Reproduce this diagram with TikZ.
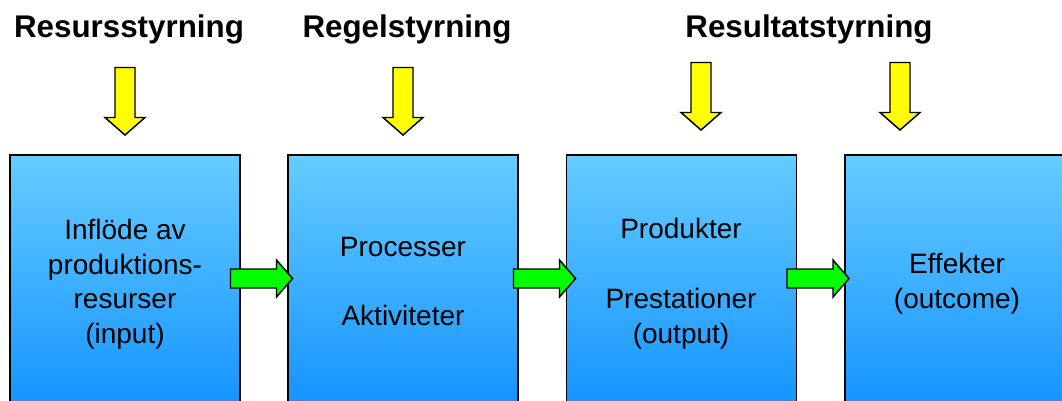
\documentclass[tikz,border=0pt]{standalone}
\usepackage{fontspec}
\setmainfont{Liberation Sans}
\definecolor{boxtop}{HTML}{66CCFF}
\definecolor{boxbot}{HTML}{1090FF}
\definecolor{arrowyellow}{HTML}{FFFF00}
\definecolor{arrowgreen}{HTML}{00FF00}
\tikzset{
  stage/.style={draw=black, line width=1.2pt, top color=boxtop, bottom color=boxbot,
    minimum width=172.5pt, minimum height=198.75pt, inner sep=0pt},
  heading/.style={font=\fontsize{23.5}{27}\selectfont\bfseries, anchor=base, inner sep=0pt},
  boxtext/.style={font=\fontsize{21}{25}\selectfont, anchor=base, inner sep=0pt},
  arrowline/.style={draw=black, line width=1.1pt, line join=miter},
  yarrow/.pic={\path[arrowline, fill=arrowyellow]
      (-10,0) -- (10,0) -- (10,50) -- (20,50) -- (0,67.5) -- (-20,50) -- (-10,50) -- cycle;},
  garrow/.pic={\path[arrowline, fill=arrowgreen]
      (0,-9.5) -- (46,-9.5) -- (46,-18.5) -- (62,0) -- (46,18.5) -- (46,9.5) -- (0,9.5) -- cycle;}
}
\begin{document}
\begin{tikzpicture}[x=0.75pt, y=-0.75pt]
\useasboundingbox (0,0) rectangle (1062,400);

% headings
\node[heading] (h1) at (129,37) {Resursstyrning};
\node[heading] (h2) at (407,37) {Regelstyrning};
\node[heading] (h3) at (809,37) {Resultatstyrning};

% downward arrows under the headings
\pic at (125,67.5) {yarrow};
\pic at (403,67.5) {yarrow};
\pic at (701,62.5) {yarrow};
\pic at (900,62.5) {yarrow};

% the four stages
\node[stage] (b1) at (125,287.5) {};
\node[stage] (b2) at (403,287.5) {};
\node[stage] (b3) at (681.5,287.5) {};
\node[stage] (b4) at (960,287.5) {};

% stage texts
\node[boxtext] (t1a) at (125,239) {Inflöde av};
\node[boxtext] (t1b) at (125,274) {produktions-};
\node[boxtext] (t1c) at (125,308.5) {resurser};
\node[boxtext] (t1d) at (125,343) {(input)};

\node[boxtext] (t2a) at (403,256) {Processer};
\node[boxtext] (t2b) at (403,325) {Aktiviteter};

\node[boxtext] (t3a) at (681,238.5) {Produkter};
\node[boxtext] (t3b) at (681,308.5) {Prestationer};
\node[boxtext] (t3c) at (681,343) {(output)};

\node[boxtext] (t4a) at (957,273.5) {Effekter};
\node[boxtext] (t4b) at (957,308.5) {(outcome)};

% flow arrows between the stages
\pic at (230.5,278.5) {garrow};
\pic at (513.5,278.5) {garrow};
\pic at (787,278.5) {garrow};
\end{tikzpicture}
\end{document}
